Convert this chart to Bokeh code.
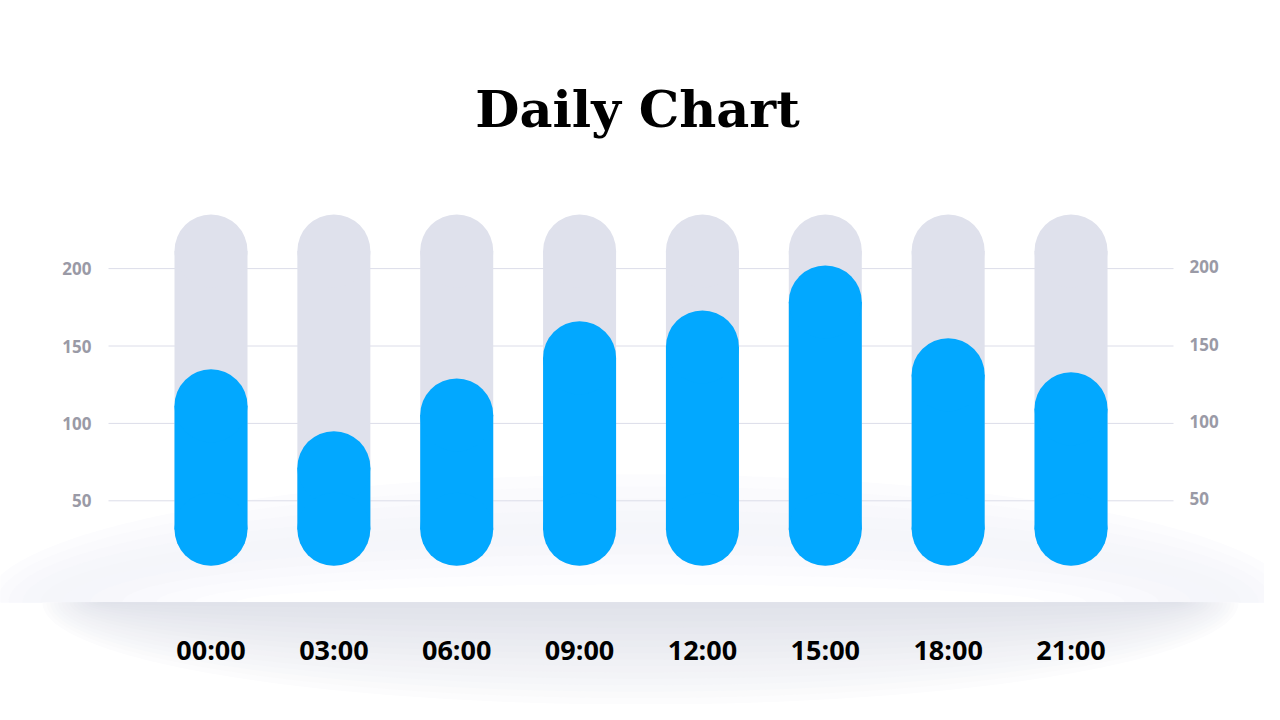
import numpy as np
from bokeh.plotting import figure
from bokeh.models import Range1d
from bokeh.core.properties import value
from bokeh.embed import file_html
from bokeh.resources import INLINE

# ---------------- data ----------------
hours = ["00:00", "03:00", "06:00", "09:00", "12:00", "15:00", "18:00", "21:00"]
values = [135, 95, 129, 166, 173, 202, 155, 133]
track_max = [235, 235, 235, 235, 235, 235, 235, 235]
floor_value = 8
y_ticks = [50, 100, 150, 200]
y_tick_labels = ["50", "100", "150", "200"]
title_text = "Daily Chart"

# ---------------- layout ----------------
W, H = 1264, 704
MARGIN = 0
X0 = 210.5      # canvas px of first category
XS = 122.86     # px per category step
Y0 = 577.7      # canvas px of value 0
YS = 1.548      # px per value unit
BAR_PX = 73

BLUE = "#02a8ff"
TRACK = "#dfe1ec"
GRID = "#dcdde9"
TICK = "#9a9aa6"


def xp(page_x):
    return (page_x - MARGIN - X0) / XS


def yp(page_y):
    return (Y0 - (page_y - MARGIN)) / YS


def dxp(px):
    return px / XS


def dyp(px):
    return px / YS


p = figure(
    width=W, height=H,
    x_range=Range1d(xp(MARGIN), xp(MARGIN + W)),
    y_range=Range1d(yp(MARGIN + H), yp(MARGIN)),
    x_axis_type=None, y_axis_type=None,
    toolbar_location=None, output_backend="svg",
    min_border=0, min_border_left=0, min_border_right=0,
    min_border_top=0, min_border_bottom=0,
    outline_line_color=None, background_fill_color="white",
    border_fill_color="white",
)

# ---------------- soft platform background (decoration) ----------------
EDGE = 602   # page y of the platform's lower edge
CENTER_X = 640
theta = np.linspace(0, np.pi, 120)


def half_ellipse(a_px, b_px, upper):
    px = CENTER_X + a_px * np.cos(theta)
    py = EDGE - b_px * np.sin(theta) if upper else EDGE + b_px * np.sin(theta)
    return [xp(v) for v in px], [yp(v) for v in py]


def mix(c0, c1, t):
    c = [round(a + (b - a) * t) for a, b in zip(c0, c1)]
    return "#%02x%02x%02x" % tuple(c)


# lavender halo above the edge (nested opaque layers, outer -> inner)
halo = [(655, 128, "#fcfcfe"), (644, 116, "#fafafd"), (632, 104, "#f8f8fc"),
        (618, 92, "#f6f7fb"), (600, 80, "#f5f6fa"), (578, 68, "#f5f6fb"),
        (550, 58, "#f7f7fb"), (518, 48, "#f9f9fd"), (484, 38, "#fbfbfe"),
        (446, 28, "#fdfdff"), (404, 18, "#ffffff")]
for a_px, b_px, col in halo:
    gx, gy = half_ellipse(a_px, b_px, True)
    p.patch(gx, gy, fill_color=col, line_color=None)

# shadow below the edge (nested opaque layers, outer -> inner)
N_SH = 16
for k in range(N_SH):
    t = k / (N_SH - 1)
    a_px = 598 - 58 * t
    b_px = 102 - 96 * t
    col = mix((252, 252, 253), (224, 226, 234), t ** 0.9)
    sx, sy = half_ellipse(a_px, b_px, False)
    p.patch(sx, sy, fill_color=col, line_color=None)

# ---------------- grid lines ----------------
n = len(hours)
xs = list(range(n))
p.segment(x0=[xp(108)] * len(y_ticks), x1=[xp(1173)] * len(y_ticks), y0=y_ticks, y1=y_ticks,
          line_color=GRID, line_width=1)

# ---------------- pills ----------------
bw = dxp(BAR_PX)
r_x = bw / 2
r_y = dyp(BAR_PX / 2)


def pill(tops, color):
    p.vbar(x=xs, width=bw, top=[t - r_y for t in tops], bottom=[floor_value + r_y] * n,
           fill_color=color, line_color=None)
    p.circle(x=xs, y=[t - r_y for t in tops], radius=r_x, radius_dimension="x",
             fill_color=color, line_color=None)
    p.circle(x=xs, y=[floor_value + r_y] * n, radius=r_x, radius_dimension="x",
             fill_color=color, line_color=None)


pill(track_max, TRACK)
pill(values, BLUE)

# ---------------- tick labels ----------------
p.text(x=[xp(91)] * len(y_ticks), y=y_ticks, text=y_tick_labels,
       text_align="right", text_baseline="middle",
       text_font=value("Open Sans"), text_font_style="bold",
       text_font_size=value("17px"), text_color=TICK)
p.text(x=[xp(1189)] * len(y_ticks), y=[t + dyp(2) for t in y_ticks], text=y_tick_labels,
       text_align="left", text_baseline="middle",
       text_font=value("Open Sans"), text_font_style="bold",
       text_font_size=value("17px"), text_color=TICK)

# ---------------- category labels ----------------
p.text(x=xs, y=[yp(649)] * n, text=hours,
       text_align="center", text_baseline="middle",
       text_font=value("Open Sans"), text_font_style="bold",
       text_font_size=value("27px"), text_color="#000000")

# ---------------- title ----------------
p.text(x=[xp(637)], y=[yp(108)], text=[title_text],
       text_align="center", text_baseline="middle",
       text_font=value("DejaVu Serif"), text_font_style="bold",
       text_font_size=value("51px"), text_color="#000000")

open("out.html", "w").write(file_html(p, INLINE))
